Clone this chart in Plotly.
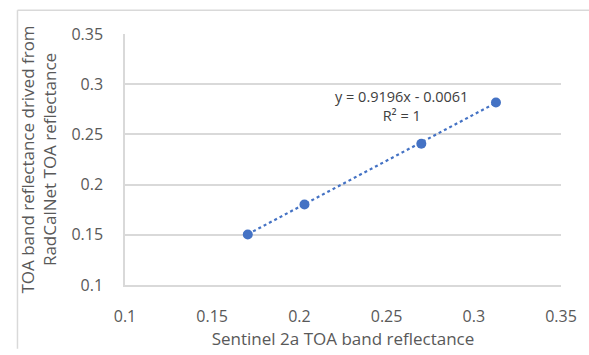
import plotly.graph_objects as go

sentinel_x = [0.1704, 0.2029, 0.2699, 0.3127]
radcalnet_y = [0.1503, 0.1801, 0.2407, 0.2817]
slope = 0.9196
intercept = -0.0061
eq_label = "y = 0.9196x - 0.0061"
r2_label = "R² = 1"
tick_vals = [0.1, 0.15, 0.2, 0.25, 0.3, 0.35]
tick_text = ["0.1", "0.15", "0.2", "0.25", "0.3", "0.35"]

trend_x = [min(sentinel_x), max(sentinel_x)]
trend_y = [slope * v + intercept for v in trend_x]

blue = "#4472C4"
grid = "#d9d9d9"
txt = "#595959"
font = "Open Sans"

fig = go.Figure()
fig.add_trace(go.Scatter(x=trend_x, y=trend_y, mode="lines",
                         line=dict(color=blue, width=2.2, dash="dot"),
                         hoverinfo="skip", showlegend=False))
fig.add_trace(go.Scatter(x=sentinel_x, y=radcalnet_y, mode="markers",
                         marker=dict(color=blue, size=10),
                         showlegend=False))

fig.add_annotation(x=0.2588, y=0.2995, xref="x", yref="y",
                   text=eq_label + "<br>" + r2_label, showarrow=False,
                   align="center", yanchor="top",
                   font=dict(family=font, size=14.5, color="#404040"))

W, H = 589, 355
ml, mr, mt, mb = 125, 20, 34, 61
pw, ph = W - ml - mr, H - mt - mb
def px(xp):
    return (xp - ml) / pw
def py(yp):
    return (H - mb - yp) / ph

fig.add_shape(type="line", xref="paper", yref="paper",
              x0=px(15.5), x1=px(600), y0=py(9.5), y1=py(9.5),
              line=dict(color=grid, width=1.5))
fig.add_shape(type="line", xref="paper", yref="paper",
              x0=px(15.5), x1=px(15.5), y0=py(9.5), y1=py(360),
              line=dict(color=grid, width=1.5))

fig.update_layout(
    width=W, height=H,
    margin=dict(l=ml, r=mr, t=mt, b=mb),
    paper_bgcolor="white", plot_bgcolor="white",
    font=dict(family=font, color=txt, size=16),
    xaxis=dict(range=[0.1, 0.35], tickvals=tick_vals, ticktext=tick_text,
               showgrid=False, zeroline=False, showline=True,
               linecolor=grid, linewidth=1.5, ticks="", ticklabelstandoff=16,
               title=dict(text="Sentinel 2a TOA band reflectance", standoff=4,
                          font=dict(size=17, color=txt)),
               tickfont=dict(size=16, color=txt)),
    yaxis=dict(range=[0.1, 0.35], tickvals=tick_vals, ticktext=tick_text,
               showgrid=True, gridcolor=grid, gridwidth=1.5, zeroline=False,
               showline=True, linecolor=grid, linewidth=1.5, ticks="",
               ticklabelstandoff=17,
               title=dict(text="TOA band reflectance drived from<br>RadCalNet TOA reflectance",
                          standoff=10, font=dict(size=17, color=txt)),
               tickfont=dict(size=16, color=txt)),
)

fig.write_html("out.html", config={"displayModeBar": False},
               post_script="document.body.style.margin='0';document.body.style.overflow='hidden';")
